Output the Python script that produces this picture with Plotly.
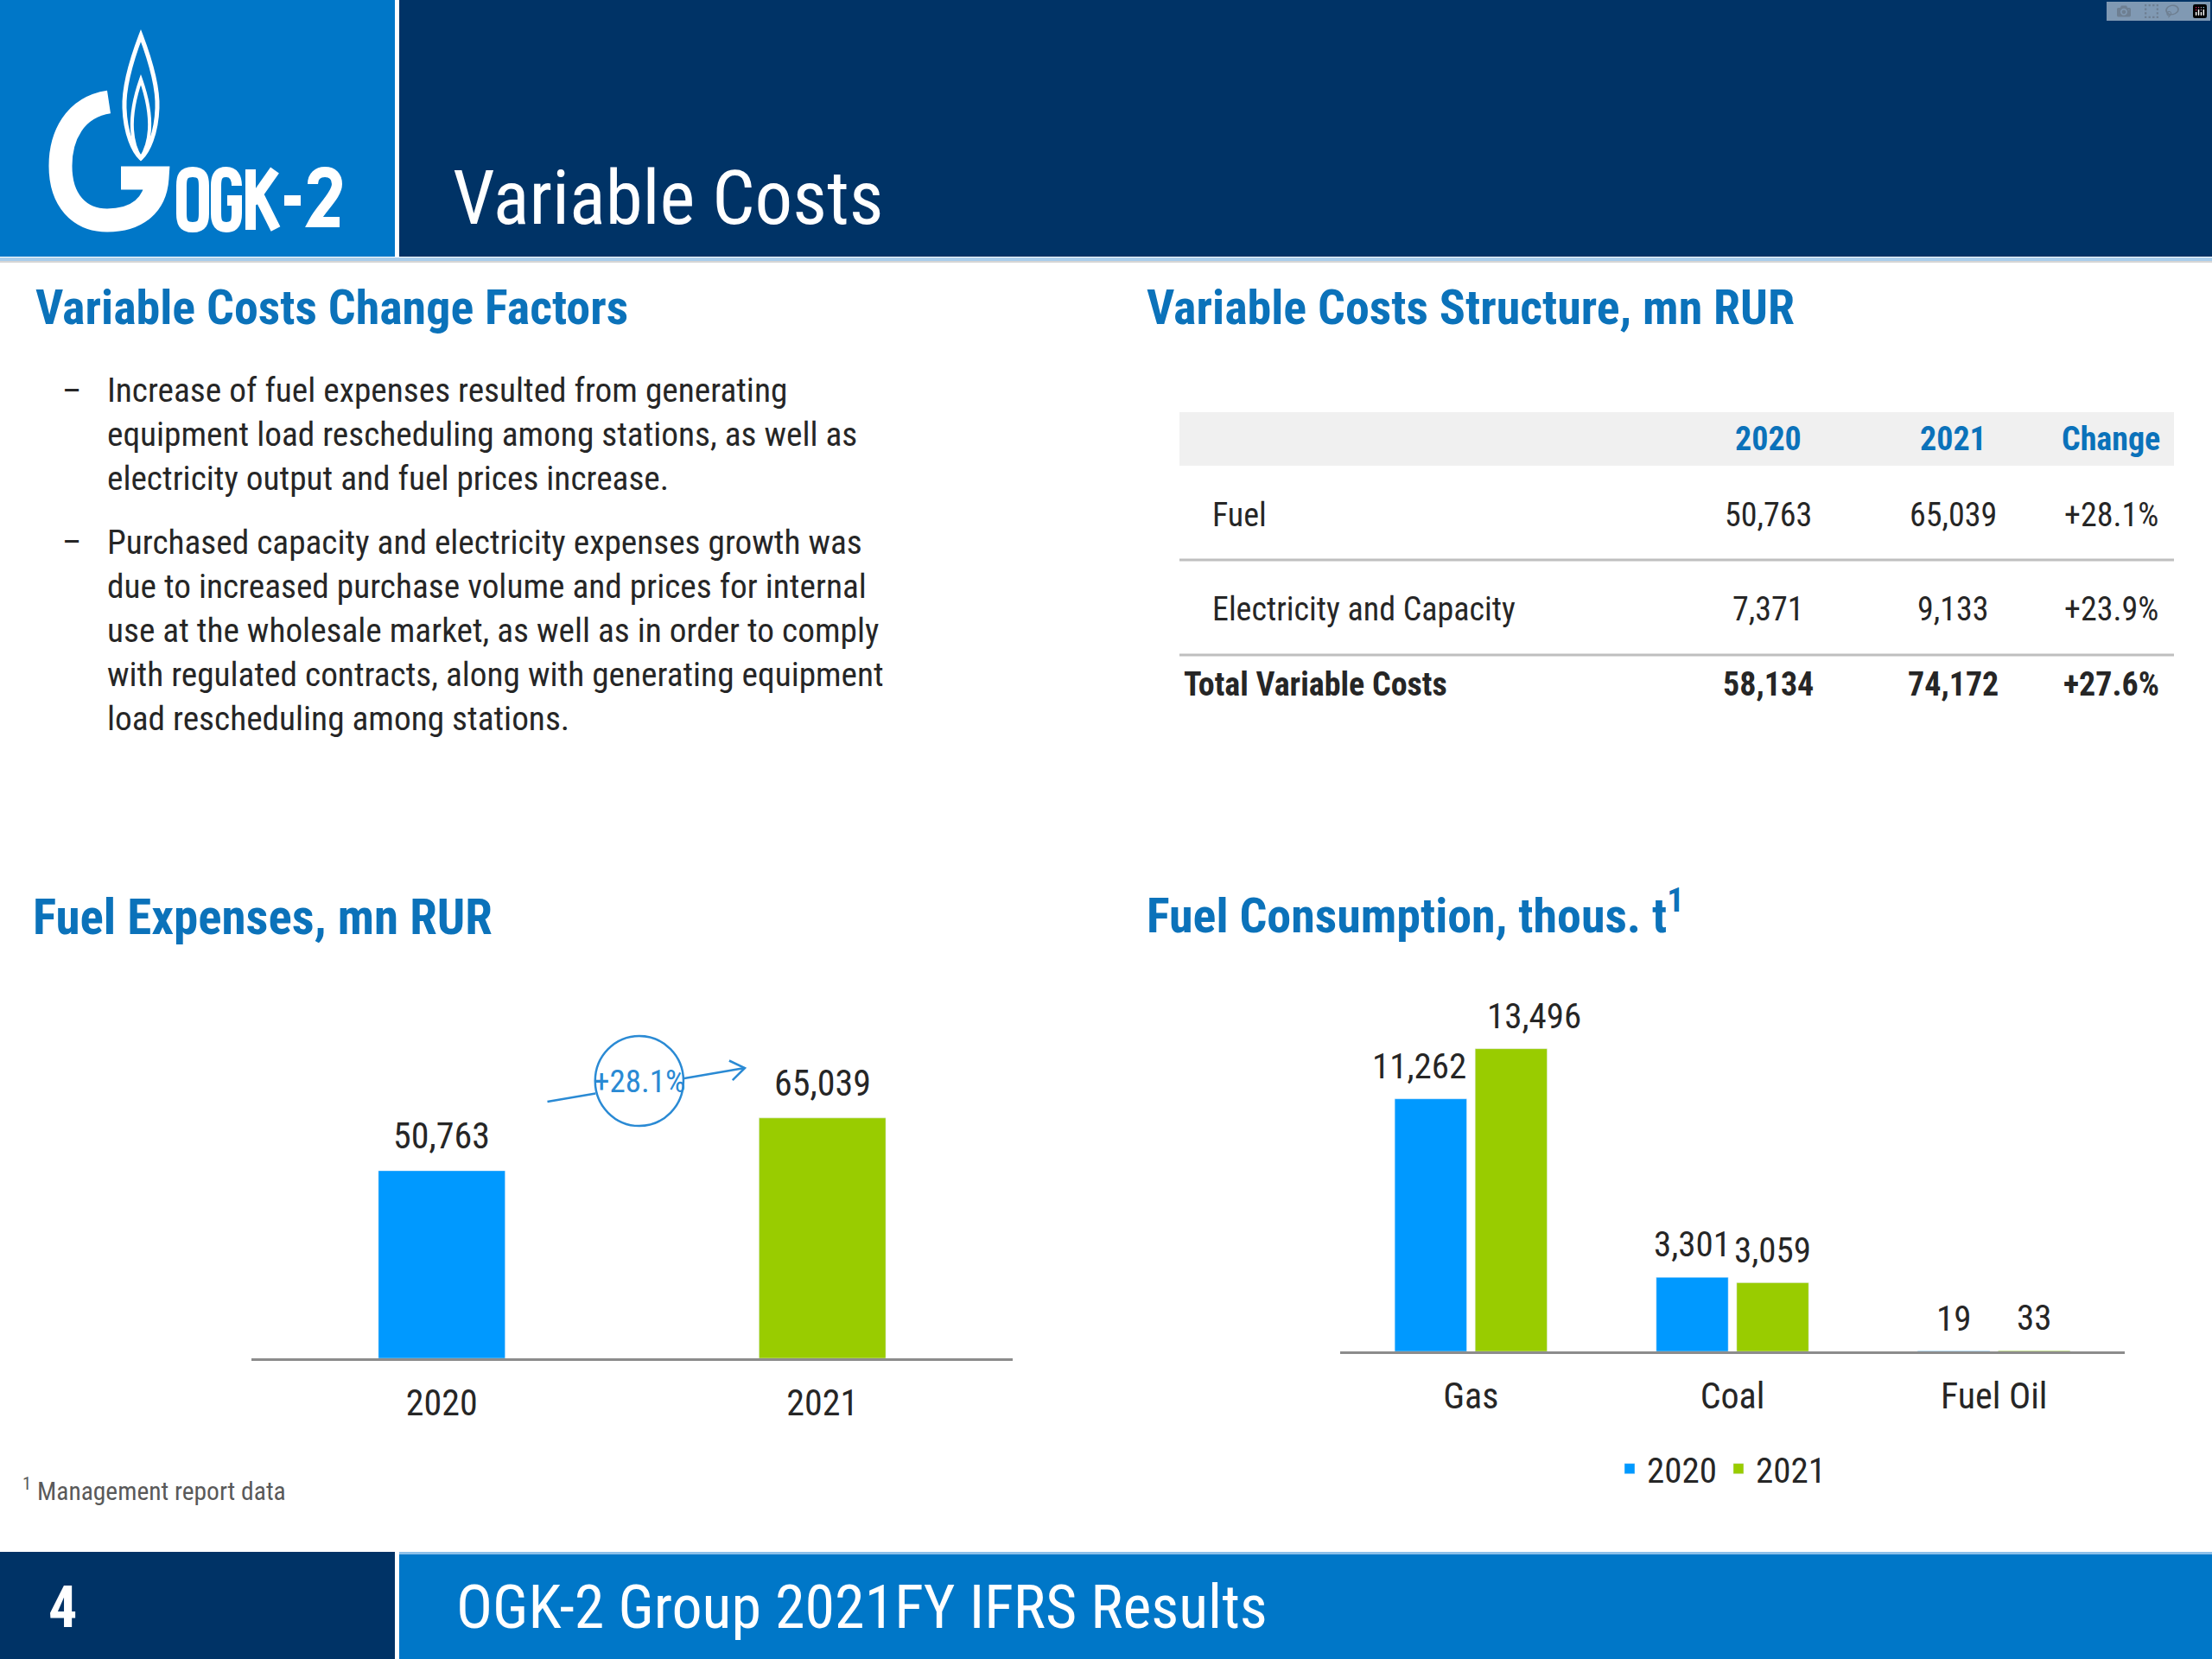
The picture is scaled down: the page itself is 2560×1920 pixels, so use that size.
import re
import plotly.graph_objects as go

W, H = 2560, 1920

# ---- data ----
fuel_years = ["2020", "2021"]
fuel_expenses = [50763, 65039]
fuel_growth = "+28.1%"

fuel_types = ["Gas", "Coal", "Fuel Oil"]
consumption_2020 = [11262, 3301, 19]
consumption_2021 = [13496, 3059, 33]

table_cols = ["2020", "2021", "Change"]
table_rows = ["Fuel", "Electricity and Capacity", "Total Variable Costs"]
table_2020 = [50763, 7371, 58134]
table_2021 = [65039, 9133, 74172]
table_change = ["+28.1%", "+23.9%", "+27.6%"]

bullets = [
    "Increase of fuel expenses resulted from generating<br>"
    "equipment load rescheduling among stations, as well as<br>"
    "electricity output and fuel prices increase.",
    "Purchased capacity and electricity expenses growth was<br>"
    "due to increased purchase volume and prices for internal<br>"
    "use at the wholesale market, as well as in order to comply<br>"
    "with regulated contracts, along with generating equipment<br>"
    "load rescheduling among stations.",
]

# ---- style ----
FONT = "Roboto Condensed, Liberation Sans Narrow, Arial Narrow, sans-serif"
NAVY = "#003366"
BLUE = "#0077C8"
HEAD = "#0B72BA"
BAR_BLUE = "#0099FF"
BAR_GREEN = "#99CC00"
TXT = "#262626"
ARROW = "#2A8AD4"

# small horizontal nudges of the gas labels, as on the slide
gas_label_shift = [-13, 27]


def note(x, y, text, size, color=TXT, bold=False, xanchor="left", yanchor="middle", align="left"):
    return dict(x=x / W, y=1 - y / H, xref="paper", yref="paper", text=text,
                showarrow=False, xanchor=xanchor, yanchor=yanchor, align=align,
                font=dict(family=FONT, size=size, color=color,
                          weight="bold" if bold else "normal"))


def rect(x0, y0, x1, y1, color):
    return dict(type="rect", xref="paper", yref="paper", x0=x0 / W, x1=x1 / W,
                y0=1 - y1 / H, y1=1 - y0 / H, fillcolor=color, line=dict(width=0),
                layer="below")


def path_px(d, width, color="white"):
    def conv(m):
        return f"{float(m.group(1)) / W:.5f},{1 - float(m.group(2)) / H:.5f}"
    return dict(type="path", xref="paper", yref="paper",
                path=re.sub(r"(-?\d+\.?\d*),(-?\d+\.?\d*)", conv, d),
                line=dict(color=color, width=width), fillcolor="rgba(0,0,0,0)")


fig = go.Figure()

# fuel expenses
fig.add_trace(go.Bar(x=fuel_years, y=fuel_expenses, marker_color=[BAR_BLUE, BAR_GREEN],
                     width=0.333, showlegend=False, xaxis="x", yaxis="y"))

# fuel consumption
fig.add_trace(go.Bar(x=fuel_types, y=consumption_2020, name="2020", marker_color=BAR_BLUE,
                     xaxis="x2", yaxis="y2"))
fig.add_trace(go.Bar(x=fuel_types, y=consumption_2021, name="2021", marker_color=BAR_GREEN,
                     xaxis="x2", yaxis="y2"))

shapes = []
ann = []

# header / footer bands
shapes += [
    rect(0, 0, 457, 297, BLUE),
    rect(462, 0, W, 297, NAVY),
    rect(0, 298, W, 302, "#A8CDEB"),
    rect(0, 302, W, 304, "#D6D6D6"),
    rect(0, 1796, 457, H, NAVY),
    rect(462, 1796, W, H, BLUE),
    rect(462, 1796, W, 1799, "#8CC0EA"),
]

# logo
shapes += [
    path_px("M 163,41 C 152,70 143,100 144,125 C 145,155 155,176 163,183 "
            "C 171,176 181,155 182,125 C 183,100 174,70 163,41 Z", 5),
    path_px("M 163,92 C 156,112 152,132 153,150 C 154,166 159,177 163,183 "
            "C 167,177 172,166 173,150 C 174,132 170,112 163,92 Z", 4),
    path_px("M 126,118 C 86,124 70,158 70,192 C 70,232 92,255 124,255 "
            "C 160,255 180,236 182,206 L 140,206", 27),
    path_px("M 223,199 C 212,199 210,205 210,215 L 210,247 C 210,257 212,263 223,263 "
            "C 234,263 236,257 236,247 L 236,215 C 236,205 234,199 223,199 Z", 12),
    path_px("M 274,215 C 274,205 270,199 262,199 C 252,199 250,205 250,215 L 250,247 "
            "C 250,257 252,263 262,263 C 272,263 274,257 274,247 L 274,232 L 263,232", 12),
    path_px("M 290,196 L 290,266 M 318,197 L 292,234 M 299,225 L 319,265", 12),
    path_px("M 329,232 L 348,232", 12),
    path_px("M 362,213 C 362,204 368,199 376,199 C 385,199 390,204 390,213 "
            "C 390,226 372,240 363,257 L 393,257", 12),
]

ann += [
    note(522, 229, "Variable Costs", 87, color="white"),
    note(72, 1860, "4", 66, color="white", bold=True, xanchor="center"),
    note(526, 1860, "OGK-2 Group 2021FY IFRS Results", 70, color="white"),
    note(24, 1724, "<sup>1</sup> Management report data", 29.5, color="#595959"),
]

# section headings
ann += [
    note(39, 356, "Variable Costs Change Factors", 56, color=HEAD, bold=True),
    note(1325, 356, "Variable Costs Structure, mn RUR", 56, color=HEAD, bold=True),
    note(36, 1061, "Fuel Expenses, mn RUR", 57, color=HEAD, bold=True),
    note(1325, 1056, "Fuel Consumption, thous. t<sup>1</sup>", 56, color=HEAD, bold=True),
]

# bullets
for text, y_first in zip(bullets, [452, 627]):
    n = text.count("<br>") + 1
    ann.append(note(83, y_first, "–", 39, xanchor="center"))
    ann.append(note(122, y_first + (n - 1) * 51.4 / 2, text, 39.3))

# table
col_x = [2046, 2260, 2443]
row_y = [596, 705, 792]
shapes.append(rect(1365, 477, 2516, 539, "#F0F0F0"))
for yy in [648, 758]:
    shapes.append(rect(1365, yy - 1.5, 2516, yy + 1.5, "#BFBFBF"))
for c, cx in zip(table_cols, col_x):
    ann.append(note(cx, 508, c, 38, color=HEAD, bold=True, xanchor="center"))
for i, (lab, a, b, ch) in enumerate(zip(table_rows, table_2020, table_2021, table_change)):
    bold = i == len(table_rows) - 1
    ann.append(note(1368 if bold else 1401, row_y[i], lab, 38, bold=bold))
    for cx, v in zip(col_x, [f"{a:,}", f"{b:,}", ch]):
        ann.append(note(cx, row_y[i], v, 38, bold=bold, xanchor="center"))

# bar value labels
for i, v in enumerate(fuel_expenses):
    ann.append(dict(x=i, y=v, xref="x", yref="y", text=f"{v:,}", showarrow=False,
                    yanchor="bottom", yshift=14, font=dict(family=FONT, size=42, color=TXT)))

slot = 0.3075
for i in range(len(fuel_types)):
    for j, (off, vals) in enumerate([(-slot / 2, consumption_2020), (slot / 2, consumption_2021)]):
        ann.append(dict(x=i + off, y=vals[i], xref="x2", yref="y2", text=f"{vals[i]:,}",
                        showarrow=False, yanchor="bottom", yshift=12,
                        xshift=gas_label_shift[j] if i == 0 else 0,
                        font=dict(family=FONT, size=41, color=TXT)))

# growth marker: circle, arrow line broken by the circle, open arrow head
cx, cy, rx, ry = 0.519, 75050, 0.116, 12160
shapes.append(dict(type="circle", xref="x", yref="y", x0=cx - rx, x1=cx + rx,
                   y0=cy - ry, y1=cy + ry, line=dict(color=ARROW, width=2.5)))
shapes.append(dict(type="line", xref="x", yref="y", x0=0.2775, y0=69440, x1=0.404, y1=71665,
                   line=dict(color=ARROW, width=2.5)))
shapes.append(dict(type="line", xref="x", yref="y", x0=0.634, y0=75711, x1=0.796, y1=78560,
                   line=dict(color=ARROW, width=2.5)))
shapes.append(path_px("M 843.9,1227.5 L 862,1236 L 847.8,1250.1", 2.5, color=ARROW))
ann.append(dict(x=cx, y=cy, xref="x", yref="y", text=fuel_growth, showarrow=False,
                font=dict(family=FONT, size=37, color=ARROW)))

axis_x = dict(type="category", showline=True, linecolor="#8C8C8C", linewidth=3, ticks="",
              showgrid=False, zeroline=False, ticklabelstandoff=13,
              tickfont=dict(family=FONT, size=42, color=TXT), fixedrange=True)
axis_y = dict(visible=False, showgrid=False, zeroline=False, fixedrange=True)

fig.update_layout(
    width=W, height=H, margin=dict(l=0, r=0, t=0, b=0),
    paper_bgcolor="white", plot_bgcolor="rgba(0,0,0,0)",
    barmode="group", bargap=0.385, bargroupgap=0.105,
    xaxis=dict(axis_x, domain=[291 / W, 1172 / W], anchor="y", range=[-0.5, 1.5]),
    yaxis=dict(axis_y, domain=[1 - 1572 / H, 1 - 1143 / H], range=[0, 100300], anchor="x"),
    xaxis2=dict(axis_x, domain=[1551 / W, 2459 / W], anchor="y2", range=[-0.5, 2.5]),
    yaxis2=dict(axis_y, domain=[1 - 1564 / H, 1 - 1143 / H], range=[0, 16220], anchor="x2"),
    legend=dict(orientation="h", x=1992 / W, xanchor="center", y=1 - 1700 / H, yanchor="middle",
                font=dict(family=FONT, size=41, color=TXT), itemwidth=30,
                bgcolor="rgba(0,0,0,0)"),
    shapes=shapes,
    annotations=ann,
)

fig.write_html("out.html", post_script="document.body.style.margin='0';")
